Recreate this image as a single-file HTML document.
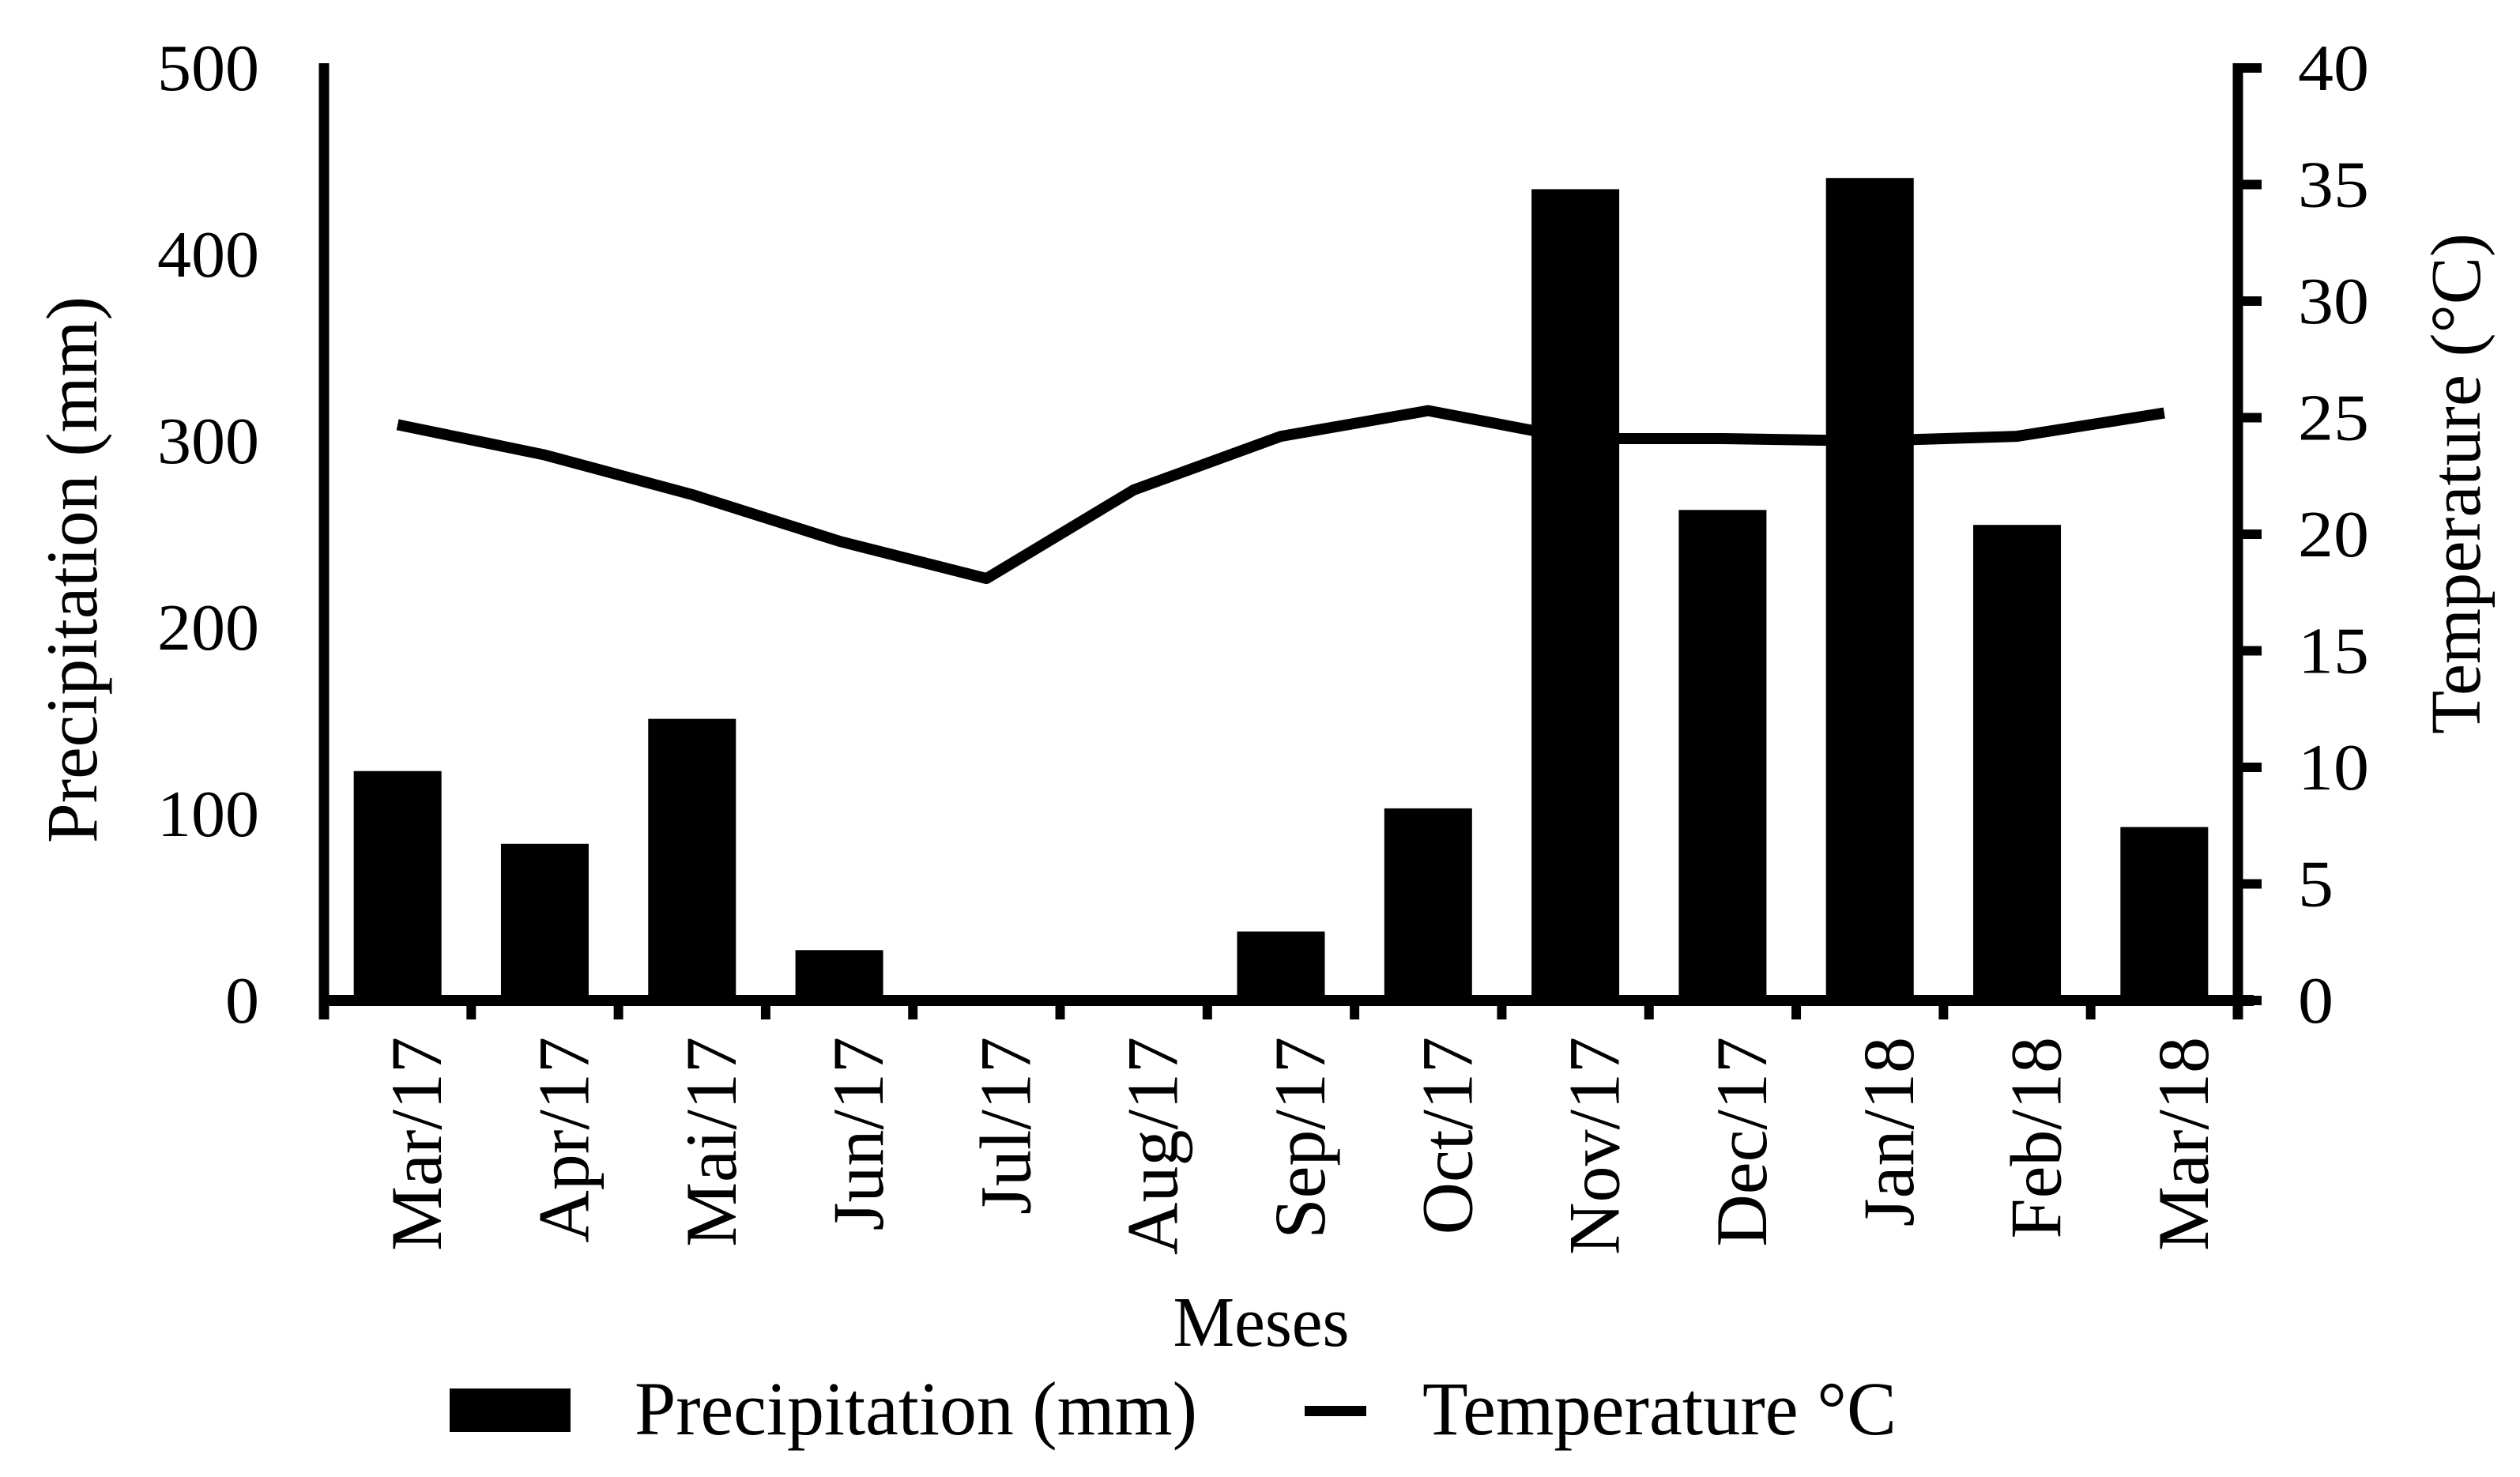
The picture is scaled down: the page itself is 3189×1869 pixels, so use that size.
<!DOCTYPE html>
<html><head><meta charset="utf-8"><style>
html,body{margin:0;padding:0;background:#fff;}
svg{display:block;}
text{font-family:"Liberation Serif",serif;fill:#000;}
</style></head><body>
<svg id="chart" width="3189" height="1869" viewBox="0 0 3189 1869">
<g id="bars"></g>
<g id="line"></g>
<g id="axes"></g>
<text x="0" y="0" transform="translate(122,721) rotate(-90)" text-anchor="middle" font-size="92" textLength="692" lengthAdjust="spacingAndGlyphs">Precipitation (mm)</text>
<text x="0" y="0" transform="translate(3138,612) rotate(-90)" text-anchor="middle" font-size="90" textLength="634" lengthAdjust="spacingAndGlyphs">Temperature (°C)</text>
<text x="1596" y="1703" text-anchor="middle" font-size="90" textLength="223" lengthAdjust="spacingAndGlyphs">Meses</text>
<g>
<rect x="569" y="1757" width="153" height="55" fill="#000"/>
<text x="803" y="1815" font-size="96" textLength="712" lengthAdjust="spacingAndGlyphs">Precipitation  (mm)</text>
<rect x="1651" y="1779" width="78" height="13" fill="#000"/>
<text x="1800" y="1815" font-size="96" textLength="600" lengthAdjust="spacingAndGlyphs">Temperature  °C</text>
</g>
</svg>
<script>
const categories = ["Mar/17","Apr/17","Mai/17","Jun/17","Jul/17","Aug/17","Sep/17","Oct/17","Nov/17","Dec/17","Jan/18","Feb/18","Mar/18"];
const precipitation = [123, 84, 151, 27, 0, 0, 37, 103, 435, 263, 441, 255, 93];
const temperature = [24.7, 23.4, 21.7, 19.7, 18.1, 21.9, 24.2, 25.3, 24.1, 24.1, 24.0, 24.2, 25.2];
const leftTicks = [0, 100, 200, 300, 400, 500];
const rightTicks = [0, 5, 10, 15, 20, 25, 30, 35, 40];

const NS = "http://www.w3.org/2000/svg";
const X0 = 410, X1 = 2832, Y0 = 1266, YT = 86;
const band = (X1 - X0) / categories.length;
const xc = i => X0 + band * (i + 0.5);
const yL = v => Y0 - (v / 500) * (Y0 - YT);
const yR = v => Y0 - (v / 40) * (Y0 - YT);
function mk(tag, attrs, parent, txt) {
  const e = document.createElementNS(NS, tag);
  for (const k in attrs) e.setAttribute(k, attrs[k]);
  if (txt !== undefined) e.textContent = txt;
  parent.appendChild(e);
  return e;
}
const bars = document.getElementById("bars");
const line = document.getElementById("line");
const axes = document.getElementById("axes");
const bw = 111;
precipitation.forEach((v, i) => {
  const r = mk("rect", {x: xc(i) - bw / 2, y: yL(v), width: bw, height: Y0 - yL(v), fill: "#000"}, bars);
  
  
});
const pts = temperature.map((t, i) => xc(i) + "," + yR(t)).join(" ");
const pl = mk("polyline", {points: pts, fill: "none", stroke: "#000", "stroke-width": 14, "stroke-linejoin": "round", "stroke-linecap": "butt"}, line);


const la = mk("line", {x1: X0, y1: YT - 6, x2: X0, y2: Y0 + 24, stroke: "#000", "stroke-width": 13}, axes);


const ra = mk("line", {x1: X1, y1: YT - 6, x2: X1, y2: Y0 + 24, stroke: "#000", "stroke-width": 13}, axes);


const xa = mk("line", {x1: X0 - 6, y1: Y0, x2: X1 + 20, y2: Y0, stroke: "#000", "stroke-width": 14}, axes);


for (let i = 0; i <= categories.length; i++) {
  const tk = mk("line", {x1: X0 + band * i, y1: Y0, x2: X0 + band * i, y2: Y0 + 24, stroke: "#000", "stroke-width": 12}, axes);
  
  
}
categories.forEach((c, i) => {
  const t = mk("text", {transform: "translate(" + (xc(i) + 55) + ",1312) rotate(-90)", "text-anchor": "end", "font-size": 92}, axes, c);
  
  
});
leftTicks.forEach(v => {
  const t = mk("text", {x: 328, y: yL(v) + 28, "text-anchor": "end", "font-size": 84, textLength: String(v).length * 43, lengthAdjust: "spacingAndGlyphs"}, axes, String(v));
  
  
});
rightTicks.forEach(v => {
  const tk = mk("line", {x1: X1, y1: yR(v), x2: X1 + 30, y2: yR(v), stroke: "#000", "stroke-width": 12}, axes);
  
  
  const t = mk("text", {x: 2908, y: yR(v) + 28, "font-size": 84, textLength: String(v).length * 45, lengthAdjust: "spacingAndGlyphs"}, axes, String(v));
  
  
});
</script>
</body></html>
